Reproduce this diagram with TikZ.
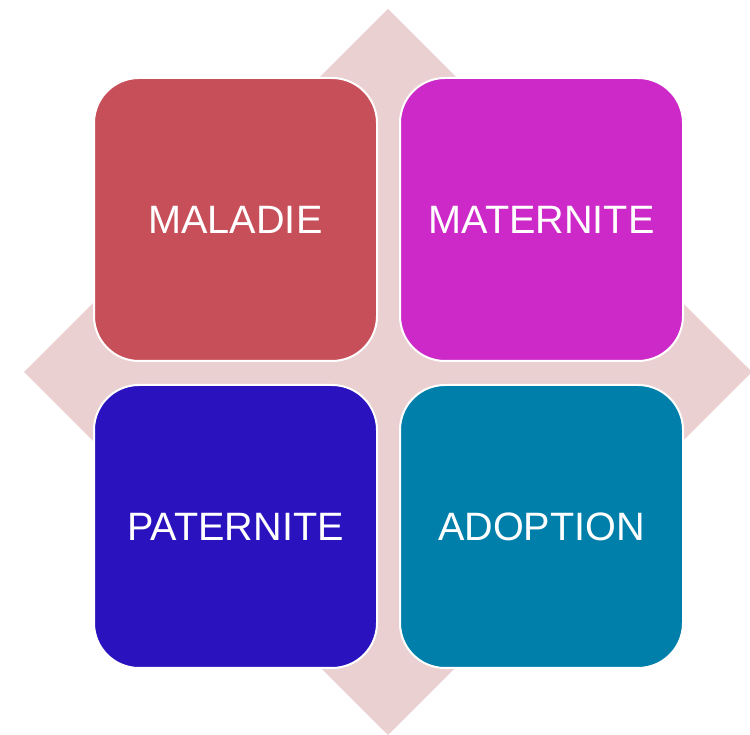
\documentclass[tikz,border=0pt]{standalone}
\usepackage{fontspec}
\setmainfont{Liberation Sans}
\definecolor{fondrose}{RGB}{234,208,209}
\definecolor{rougemal}{RGB}{199,79,90}
\definecolor{violetmat}{RGB}{204,41,200}
\definecolor{bleupat}{RGB}{42,18,190}
\definecolor{bleuadop}{RGB}{0,127,170}

\begin{document}
\begin{tikzpicture}[x=1pt, y=1pt,
    bloc/.style={draw=white, line width=2pt, rounded corners=45pt,
        minimum width=283pt, minimum height=283pt, inner sep=0pt,
        text=white, font=\fontsize{39.6}{46}\selectfont}]

    \useasboundingbox (0,0) rectangle (750,735);

    % Losange de fond
    \fill[fondrose] (388,726) -- (752,363) -- (388,0) -- (24,363) -- cycle;

    % Les quatre blocs
    \node[bloc, fill=rougemal]  (maladie)   at (235.5,515.5) {MALADIE};
    \node[bloc, fill=violetmat] (maternite) at (541.5,515.5) {MATERNITE};
    \node[bloc, fill=bleupat]   (paternite) at (235.5,208.5) {PATERNITE};
    \node[bloc, fill=bleuadop]  (adoption)  at (541.5,208.5) {ADOPTION};

\end{tikzpicture}
\end{document}
